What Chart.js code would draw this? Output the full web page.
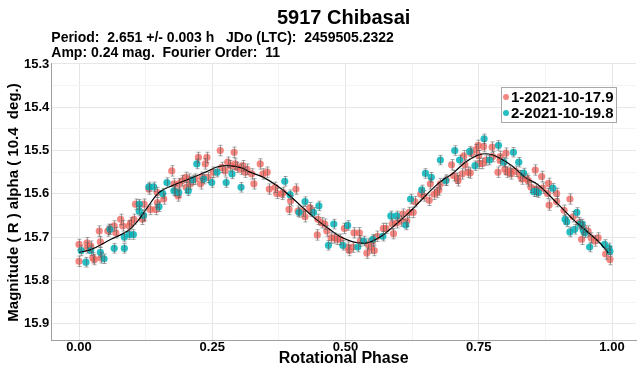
<!DOCTYPE html>
<html>
<head>
<meta charset="utf-8">
<script src="https://cdn.jsdelivr.net/npm/chart.js@4.4.0/dist/chart.umd.min.js"></script>
<style>
  html, body { margin: 0; padding: 0; background: #fff; }
  #wrap { position: relative; width: 640px; height: 369px; }
</style>
</head>
<body>
<div id="wrap"><canvas id="lc"></canvas></div>
<script>
// lightcurve: [phase, magnitude]
const label1 = '1-2021-10-17.9';
const label2 = '2-2021-10-19.8';

const night1 = [
  [0.000,15.756],[0.000,15.717],[0.015,15.713],[0.015,15.725],[0.022,15.721],[0.026,15.748],[0.029,15.752],
  [0.040,15.711],[0.041,15.748],[0.038,15.686],[0.054,15.686],[0.057,15.682],[0.066,15.674],[0.069,15.690],
  [0.078,15.659],[0.082,15.674],[0.094,15.674],[0.097,15.667],[0.103,15.659],[0.106,15.624],[0.119,15.659],
  [0.121,15.651],[0.122,15.624],[0.131,15.589],[0.134,15.636],[0.144,15.636],[0.147,15.620],[0.147,15.597],
  [0.159,15.612],[0.174,15.547],[0.178,15.577],[0.181,15.593],[0.187,15.577],[0.186,15.605],[0.193,15.570],
  [0.200,15.562],[0.201,15.585],[0.206,15.566],[0.209,15.577],[0.218,15.566],[0.224,15.516],[0.228,15.577],
  [0.231,15.562],[0.237,15.531],[0.240,15.516],[0.242,15.562],[0.252,15.550],[0.265,15.500],[0.268,15.539],
  [0.274,15.547],[0.279,15.527],[0.284,15.535],[0.291,15.504],[0.293,15.531],[0.296,15.539],[0.304,15.543],
  [0.307,15.535],[0.312,15.550],[0.315,15.543],[0.324,15.554],[0.328,15.577],[0.340,15.531],[0.345,15.554],
  [0.353,15.550],[0.357,15.589],[0.368,15.585],[0.371,15.599],[0.380,15.601],[0.383,15.597],[0.394,15.636],
  [0.397,15.616],[0.407,15.589],[0.411,15.640],[0.420,15.640],[0.424,15.653],[0.433,15.632],[0.436,15.640],
  [0.448,15.659],[0.447,15.695],[0.455,15.667],[0.461,15.670],[0.465,15.686],[0.473,15.702],[0.479,15.702],
  [0.484,15.705],[0.490,15.705],[0.498,15.680],[0.504,15.723],[0.507,15.731],[0.514,15.723],[0.516,15.690],
  [0.526,15.690],[0.528,15.709],[0.540,15.737],[0.542,15.716],[0.547,15.725],[0.551,15.709],[0.554,15.731],
  [0.560,15.698],[0.571,15.680],[0.576,15.680],[0.588,15.670],[0.590,15.692],[0.596,15.667],[0.604,15.663],
  [0.607,15.647],[0.615,15.663],[0.619,15.643],[0.627,15.643],[0.630,15.618],[0.641,15.601],[0.647,15.605],
  [0.657,15.615],[0.659,15.577],[0.666,15.601],[0.671,15.597],[0.678,15.577],[0.675,15.591],[0.689,15.568],
  [0.699,15.533],[0.703,15.558],[0.710,15.564],[0.711,15.570],[0.719,15.554],[0.722,15.512],[0.724,15.533],
  [0.730,15.550],[0.734,15.552],[0.736,15.506],[0.745,15.498],[0.749,15.488],[0.750,15.512],[0.751,15.530],
  [0.757,15.530],[0.759,15.491],[0.764,15.522],[0.775,15.492],[0.776,15.514],[0.786,15.550],[0.790,15.514],
  [0.790,15.523],[0.799,15.543],[0.801,15.506],[0.803,15.550],[0.809,15.547],[0.811,15.554],[0.819,15.548],
  [0.828,15.558],[0.831,15.566],[0.840,15.566],[0.843,15.570],[0.848,15.585],[0.856,15.545],[0.858,15.589],
  [0.868,15.560],[0.870,15.587],[0.879,15.599],[0.881,15.576],[0.882,15.626],[0.896,15.599],[0.896,15.618],
  [0.910,15.638],[0.921,15.612],[0.927,15.653],[0.938,15.667],[0.943,15.705],[0.946,15.677],[0.955,15.686],
  [0.961,15.702],[0.968,15.709],[0.974,15.702],[0.988,15.739],[0.996,15.752]
];

const night2 = [
  [0.004,15.731],[0.013,15.758],[0.022,15.731],[0.040,15.735],[0.047,15.750],[0.058,15.682],[0.066,15.726],
  [0.085,15.726],[0.085,15.700],[0.094,15.694],[0.102,15.694],[0.113,15.624],[0.113,15.640],[0.121,15.650],
  [0.131,15.584],[0.140,15.584],[0.150,15.630],[0.157,15.599],[0.165,15.574],[0.178,15.593],[0.187,15.597],
  [0.205,15.593],[0.213,15.568],[0.221,15.531],[0.234,15.566],[0.249,15.574],[0.259,15.550],[0.276,15.574],
  [0.287,15.554],[0.304,15.585],[0.386,15.571],[0.396,15.602],[0.413,15.643],[0.424,15.618],[0.440,15.643],
  [0.450,15.628],[0.468,15.719],[0.478,15.670],[0.495,15.719],[0.504,15.673],[0.523,15.723],[0.534,15.709],
  [0.551,15.705],[0.570,15.698],[0.585,15.651],[0.596,15.651],[0.613,15.672],[0.622,15.612],[0.643,15.591],
  [0.650,15.553],[0.661,15.562],[0.678,15.522],[0.688,15.570],[0.705,15.500],[0.714,15.522],[0.733,15.502],
  [0.743,15.535],[0.760,15.473],[0.770,15.522],[0.787,15.488],[0.797,15.527],[0.815,15.504],[0.825,15.527],
  [0.834,15.552],[0.853,15.595],[0.858,15.595],[0.862,15.597],[0.889,15.587],[0.912,15.659],[0.915,15.665],
  [0.921,15.688],[0.930,15.682],[0.934,15.643],[0.940,15.670],[0.944,15.670],[0.946,15.684],[0.949,15.690],
  [0.958,15.723],[0.986,15.717],[0.994,15.725],[0.996,15.733]
];

// fourier fit, sampled
const fitCurve = [
  [0.000,15.735],[0.022,15.729],[0.060,15.705],[0.091,15.686],[0.110,15.663],[0.128,15.632],[0.150,15.597],
  [0.175,15.581],[0.206,15.566],[0.237,15.550],[0.262,15.537],[0.280,15.535],[0.305,15.540],[0.321,15.550],
  [0.346,15.562],[0.371,15.581],[0.396,15.605],[0.420,15.632],[0.445,15.659],[0.470,15.682],[0.489,15.698],
  [0.507,15.708],[0.523,15.713],[0.542,15.713],[0.567,15.698],[0.591,15.674],[0.616,15.647],[0.641,15.616],
  [0.666,15.585],[0.685,15.566],[0.700,15.554],[0.725,15.527],[0.750,15.510],[0.769,15.508],[0.787,15.516],
  [0.812,15.535],[0.837,15.562],[0.860,15.578],[0.877,15.597],[0.902,15.628],[0.927,15.659],[0.952,15.686],
  [0.977,15.713],[0.993,15.737]
];

const magErr1 = 0.012;
const magErr2 = 0.011;

const xMajor = [0, 0.25, 0.5, 0.75, 1.0];
const xLabels = ['0.00', '0.25', '0.50', '0.75', '1.00'];
const xMinor = [0.125, 0.375, 0.625, 0.875];
const yMajor = [15.3, 15.4, 15.5, 15.6, 15.7, 15.8, 15.9];
const yLabels = ['15.3', '15.4', '15.5', '15.6', '15.7', '15.8', '15.9'];
const yMinor = [15.35, 15.45, 15.55, 15.65, 15.75, 15.85];

const titleText = '5917 Chibasai';
const subtitleLines = [
  'Period:  2.651 +/- 0.003 h   JDo (LTC):  2459505.2322',
  'Amp: 0.24 mag.  Fourier Order:  11'
];

const RED = 'rgba(240,100,92,0.78)';
const CYAN = 'rgba(0,178,184,0.85)';

const toXY = arr => arr.map(p => ({ x: p[0], y: p[1] }));
const near = (v, list) => list.findIndex(m => Math.abs(m - v) < 1e-6);

function setTicks(major, minor) {
  return scale => {
    scale.ticks = major.concat(minor).sort((a, b) => a - b).map(v => ({ value: v }));
  };
}

// grey error whiskers on each point
const errorBars = {
  id: 'errorBars',
  afterDatasetsDraw(chart) {
    const ctx = chart.ctx, xs = chart.scales.x, ys = chart.scales.y;
    ctx.save();
    ctx.strokeStyle = 'rgba(90,90,90,0.55)';
    ctx.lineWidth = 1;
    chart.data.datasets.forEach(ds => {
      if (!ds.err) return;
      ds.data.forEach(p => {
        const x = Math.round(xs.getPixelForValue(p.x)) + 0.5;
        const a = ys.getPixelForValue(p.y - ds.err);
        const b = ys.getPixelForValue(p.y + ds.err);
        ctx.beginPath();
        ctx.moveTo(x, a); ctx.lineTo(x, b);
        ctx.moveTo(x - 2, a); ctx.lineTo(x + 2, a);
        ctx.moveTo(x - 2, b); ctx.lineTo(x + 2, b);
        ctx.stroke();
      });
    });
    ctx.restore();
  }
};

// boxed legend in the upper right of the panel
const boxLegend = {
  id: 'boxLegend',
  afterDraw(chart) {
    const ctx = chart.ctx;
    const items = [[label1, RED], [label2, CYAN]];
    const x0 = 501, y0 = 87, w = 115, h = 35;
    ctx.save();
    ctx.fillStyle = '#fff';
    ctx.fillRect(x0, y0, w, h);
    ctx.strokeStyle = '#a8a8a8';
    ctx.lineWidth = 1;
    ctx.strokeRect(x0 + 0.5, y0 + 0.5, w, h);
    ctx.font = 'bold 15px "Liberation Sans", Arial, sans-serif';
    ctx.textBaseline = 'middle';
    items.forEach((it, i) => {
      const cy = y0 + 10 + i * 16;
      ctx.fillStyle = it[1];
      ctx.beginPath();
      ctx.arc(x0 + 5, cy, 3, 0, Math.PI * 2);
      ctx.fill();
      ctx.fillStyle = '#000';
      ctx.fillText(it[0], x0 + 10, cy + 1);
    });
    ctx.restore();
  }
};

Chart.defaults.font.family = '"Liberation Sans", Arial, sans-serif';
Chart.defaults.color = '#000';

new Chart(document.getElementById('lc'), {
  type: 'scatter',
  data: {
    datasets: [
      {
        type: 'line', label: 'fit', data: toXY(fitCurve),
        borderColor: '#000', borderWidth: 1.2, pointRadius: 0,
        tension: 0.4, fill: false
      },
      {
        label: label2, data: toXY(night2), err: magErr2,
        backgroundColor: CYAN, borderWidth: 0, pointRadius: 3.6
      },
      {
        label: label1, data: toXY(night1), err: magErr1,
        backgroundColor: RED, borderWidth: 0, pointRadius: 3.6
      }
    ]
  },
  options: {
    responsive: true,
    maintainAspectRatio: false,
    animation: false,
    layout: { padding: { left: 6, right: 0, top: 0, bottom: 2 } },
    plugins: {
      legend: { display: false },
      tooltip: { enabled: false },
      title: {
        display: true, text: titleText, fullSize: false,
        font: { size: 20, weight: 'bold' }, color: '#000',
        padding: { top: 6, bottom: 0 }
      },
      subtitle: {
        display: true, text: subtitleLines, fullSize: false, align: 'start',
        font: { size: 14, weight: 'bold', lineHeight: 1.07 }, color: '#000',
        padding: { top: 1, bottom: 3 }
      }
    },
    scales: {
      x: {
        type: 'linear', min: -0.052, max: 1.045,
        afterBuildTicks: setTicks(xMajor, xMinor),
        grid: {
          drawTicks: false,
          color: c => near(c.tick.value, xMajor) >= 0 ? '#e6e6e6' : '#f3f3f3'
        },
        border: { display: true, color: '#a0a0a0', width: 1 },
        ticks: {
          autoSkip: false, maxRotation: 0, padding: 1,
          font: { size: 13, weight: 'bold', lineHeight: 0.77 },
          callback: v => { const i = near(v, xMajor); return i >= 0 ? xLabels[i] : ''; }
        },
        title: {
          display: true, text: 'Rotational Phase',
          font: { size: 16, weight: 'bold', lineHeight: 1 },
          padding: { top: -2, bottom: 0 }
        }
      },
      y: {
        type: 'linear', min: 15.3, max: 15.94, reverse: true,
        afterBuildTicks: setTicks(yMajor, yMinor),
        grid: {
          drawTicks: false,
          color: c => near(c.tick.value, yMajor) >= 0 ? '#e6e6e6' : '#f3f3f3'
        },
        border: { display: true, color: '#a0a0a0', width: 1 },
        ticks: {
          autoSkip: false, padding: 2,
          font: { size: 13, weight: 'bold' },
          callback: v => { const i = near(v, yMajor); return i >= 0 ? yLabels[i] : ''; }
        },
        title: {
          display: true, text: 'Magnitude ( R ) alpha ( 10.4  deg.)',
          font: { size: 15, weight: 'bold', lineHeight: 1 },
          padding: { top: 0, bottom: 1 }
        }
      }
    }
  },
  plugins: [errorBars, boxLegend]
});
</script>
</body>
</html>
